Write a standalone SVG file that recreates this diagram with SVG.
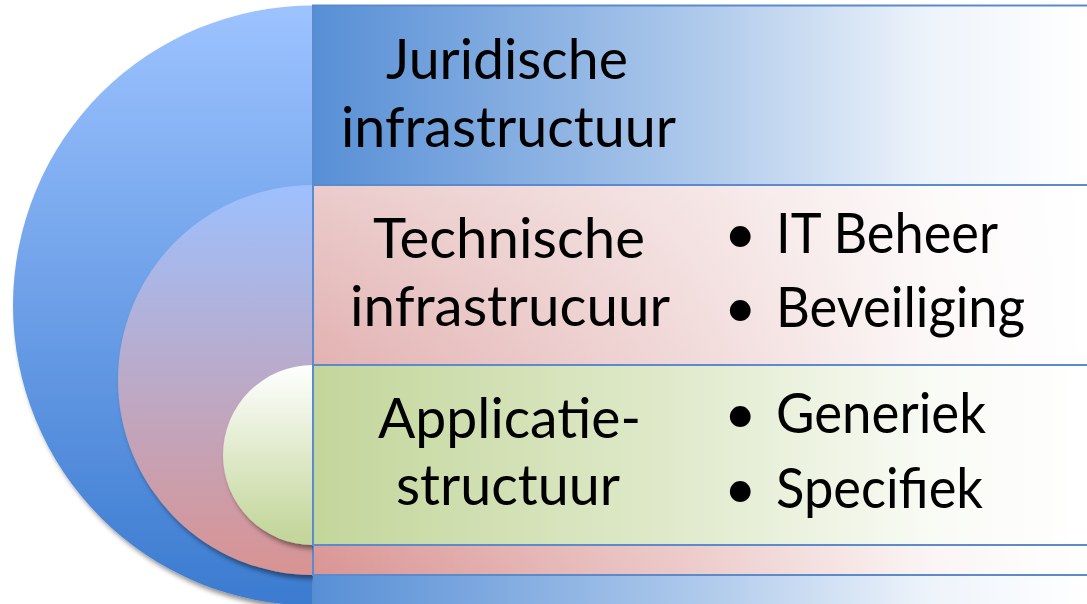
<svg xmlns="http://www.w3.org/2000/svg" width="1087" height="604" viewBox="0 0 1087 604">
<style>
.lbl{font-family:Lato,"Open Sans","Liberation Sans",sans-serif;font-size:56px;fill:#000;}
.edge{fill:none;stroke:#5b8bcc;stroke-width:2;}
</style>
<defs>
<linearGradient id="gOuter" gradientUnits="userSpaceOnUse" x1="0" y1="5" x2="0" y2="605">
<stop offset="0" stop-color="#9dc3ff"/><stop offset="1" stop-color="#3b7bd0"/>
</linearGradient>
<linearGradient id="gMid" gradientUnits="userSpaceOnUse" x1="0" y1="185" x2="0" y2="575">
<stop offset="0" stop-color="#9dc0fe"/><stop offset="1" stop-color="#d99392"/>
</linearGradient>
<linearGradient id="gInner" gradientUnits="userSpaceOnUse" x1="0" y1="365" x2="0" y2="545">
<stop offset="0" stop-color="#ffffff"/><stop offset="0.95" stop-color="#c3d69b"/>
</linearGradient>
<linearGradient id="gPink" gradientUnits="userSpaceOnUse" x1="0" y1="185" x2="0" y2="575">
<stop offset="0" stop-color="#ebcbcb"/><stop offset="1" stop-color="#d99594"/>
</linearGradient>
<linearGradient id="gFade" gradientUnits="userSpaceOnUse" x1="313" y1="0" x2="1087" y2="0">
<stop offset="0" stop-color="#fff" stop-opacity="0"/>
<stop offset="0.5" stop-color="#fff" stop-opacity="0.52"/>
<stop offset="0.8" stop-color="#fff" stop-opacity="0.9"/>
<stop offset="1" stop-color="#fff" stop-opacity="1"/>
</linearGradient>
<filter id="shadow" x="-20%" y="-20%" width="140%" height="140%">
<feDropShadow dx="3" dy="4" stdDeviation="2.5" flood-color="#000" flood-opacity="0.45"/>
</filter>
<clipPath id="leftClip"><rect x="0" y="0" width="313" height="604"/></clipPath>
</defs>

<g id="juridisch">
<g clip-path="url(#leftClip)"><path d="M313,5.5 A300,300 0 0 0 313,605.5 Z" fill="url(#gOuter)" filter="url(#shadow)"/></g>
<rect x="313" y="5.5" width="780" height="610" fill="#578fd6"/>
<rect x="313" y="5.5" width="780" height="610" fill="url(#gFade)"/>
<rect x="313" y="5.5" width="780" height="610" class="edge"/>
<text class="lbl" x="507" y="79" text-anchor="middle" textLength="242" lengthAdjust="spacingAndGlyphs">Juridische</text>
<text class="lbl" x="508.5" y="147" text-anchor="middle" textLength="335" lengthAdjust="spacingAndGlyphs">infrastructuur</text>
</g>

<g id="technisch">
<g clip-path="url(#leftClip)"><path d="M313,185 A195,195 0 0 0 313,575 Z" fill="url(#gMid)" filter="url(#shadow)"/></g>
<rect x="313" y="185" width="780" height="390" fill="url(#gPink)"/>
<rect x="313" y="185" width="780" height="390" fill="url(#gFade)"/>
<rect x="313" y="185" width="780" height="390" class="edge"/>
<text class="lbl" x="509" y="258" text-anchor="middle" textLength="272" lengthAdjust="spacingAndGlyphs">Technische</text>
<text class="lbl" x="510" y="326" text-anchor="middle" textLength="320" lengthAdjust="spacingAndGlyphs">infrastrucuur</text>
<text class="lbl" y="253"><tspan x="724">•</tspan><tspan x="776" textLength="222" lengthAdjust="spacingAndGlyphs">IT Beheer</tspan></text>
<text class="lbl" y="327"><tspan x="724">•</tspan><tspan x="776" textLength="249" lengthAdjust="spacingAndGlyphs">Beveiliging</tspan></text>
</g>

<g id="applicatie">
<g clip-path="url(#leftClip)"><path d="M313,365 A90,90 0 0 0 313,545 Z" fill="url(#gInner)" filter="url(#shadow)"/></g>
<rect x="313" y="365" width="780" height="180" fill="#c3d69b"/>
<rect x="313" y="365" width="780" height="180" fill="url(#gFade)"/>
<rect x="313" y="365" width="780" height="180" class="edge"/>
<text class="lbl" x="509.5" y="438" text-anchor="middle" textLength="263" lengthAdjust="spacingAndGlyphs">Applicatie-</text>
<text class="lbl" x="508" y="505" text-anchor="middle" textLength="224" lengthAdjust="spacingAndGlyphs">structuur</text>
<text class="lbl" y="433"><tspan x="724">•</tspan><tspan x="776" textLength="210" lengthAdjust="spacingAndGlyphs">Generiek</tspan></text>
<text class="lbl" y="508"><tspan x="724">•</tspan><tspan x="776" textLength="207" lengthAdjust="spacingAndGlyphs">Specifiek</tspan></text>
</g>

<g id="connectors"></g>
</svg>
